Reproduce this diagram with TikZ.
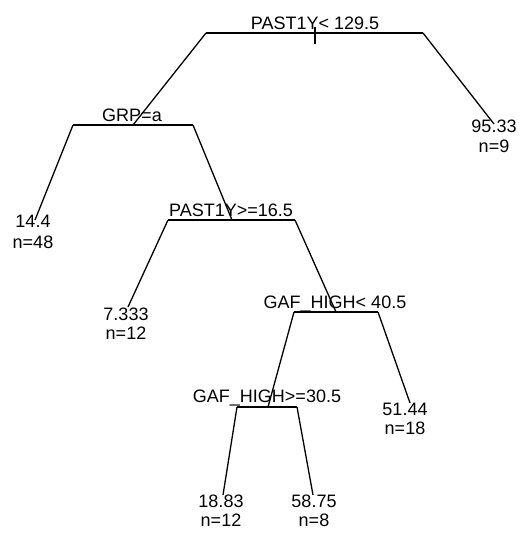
\documentclass[tikz,border=0pt]{standalone}
\usepackage{fontspec}
\setmainfont{Liberation Sans}
\begin{document}
\begin{tikzpicture}[x=1pt,y=-1pt,
  lbl/.style={anchor=base,inner sep=0pt,font=\fontsize{18}{20}\selectfont},
  edge/.style={line width=1.3pt,line join=round}]
\useasboundingbox (0,0) rectangle (524,534);
% split bars (left end, centre, right end)
\coordinate (r-l) at (206,33);  \coordinate (r-c) at (315,33);  \coordinate (r-r) at (423,33);
\coordinate (g-l) at (73,125);  \coordinate (g-c) at (133,125); \coordinate (g-r) at (193,125);
\coordinate (p-l) at (168,220); \coordinate (p-c) at (232,220); \coordinate (p-r) at (295,220);
\coordinate (h-l) at (294,312); \coordinate (h-c) at (336,312); \coordinate (h-r) at (378,312);
\coordinate (k-l) at (237,407); \coordinate (k-c) at (268,407); \coordinate (k-r) at (297,407);
% leaf tips
\coordinate (t1) at (35,220);
\coordinate (t2) at (128,307);
\coordinate (t3) at (410,403);
\coordinate (t4) at (223,495);
\coordinate (t5) at (313,495);
\coordinate (t6) at (494,124);
\coordinate (rt-a) at (315,27); \coordinate (rt-b) at (315,44);
% split labels
\node[lbl] (rl) at (315,30) {PAST1Y< 129.5};
\node[lbl] (gl) at (132,122) {GRP=a};
\node[lbl] (pl) at (231,217) {PAST1Y>=16.5};
\node[lbl] (hl) at (335,308) {GAF\_HIGH< 40.5};
\node[lbl] (kl) at (267,402) {GAF\_HIGH>=30.5};
% leaf labels
\node[lbl] (v1) at (33,228) {14.4};   \node[lbl] (n1) at (33,248) {n=48};
\node[lbl] (v2) at (126,320) {7.333}; \node[lbl] (n2) at (126,339) {n=12};
\node[lbl] (v3) at (405,415) {51.44}; \node[lbl] (n3) at (405,434) {n=18};
\node[lbl] (v4) at (221,507) {18.83}; \node[lbl] (n4) at (221,526) {n=12};
\node[lbl] (v5) at (314,507) {58.75}; \node[lbl] (n5) at (314,526) {n=8};
\node[lbl] (v6) at (494,133) {95.33}; \node[lbl] (n6) at (494,153) {n=9};
% bars
\draw[edge] (r-l) -- (r-r);
\draw[edge] (g-l) -- (g-r);
\draw[edge] (p-l) -- (p-r);
\draw[edge] (h-l) -- (h-r);
\draw[edge] (k-l) -- (k-r);
\draw[edge] (rt-a) -- (rt-b);
% branches
\draw[edge] (r-l) -- (g-c);
\draw[edge] (r-r) -- (t6);
\draw[edge] (g-l) -- (t1);
\draw[edge] (g-r) -- (p-c);
\draw[edge] (p-l) -- (t2);
\draw[edge] (p-r) -- (h-c);
\draw[edge] (h-l) -- (k-c);
\draw[edge] (h-r) -- (t3);
\draw[edge] (k-l) -- (t4);
\draw[edge] (k-r) -- (t5);
\end{tikzpicture}
\end{document}
